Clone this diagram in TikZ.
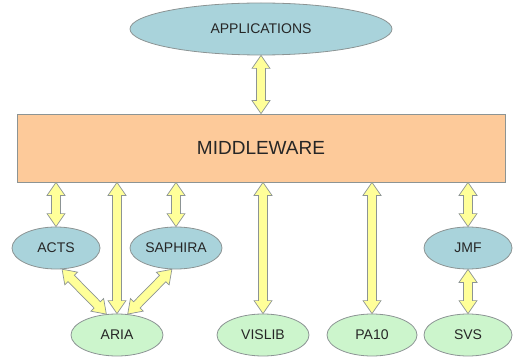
\documentclass[tikz,border=0pt]{standalone}
\usepackage{fontspec}
\setmainfont{Liberation Sans}
\usetikzlibrary{shapes.geometric,calc}

\definecolor{bluefill}{HTML}{A9D3DB}
\definecolor{greenfill}{HTML}{CCF5CC}
\definecolor{orangefill}{HTML}{FDCA9A}
\definecolor{arrowfill}{HTML}{FFFF99}
\definecolor{edgegray}{HTML}{8C9494}

% fat double arrow between two points
\newcommand\hl{13pt}
\newcommand\hw{9pt}
\newcommand\sw{4.5pt}
\newcommand\dualarrow[2]{%
  \path[fat arrow] let \p1=(#1), \p2=(#2),
    \n1={atan2(\y2-\y1,\x2-\x1)}, \n2={veclen(\x2-\x1,\y2-\y1)} in
    [shift={(\p1)}, rotate=\n1]
    (0pt,0pt) -- (\hl,\hw) -- (\hl,\sw) -- ({\n2-\hl},\sw) -- ({\n2-\hl},\hw) -- (\n2,0pt)
    -- ({\n2-\hl},-\hw) -- ({\n2-\hl},-\sw) -- (\hl,-\sw) -- (\hl,-\hw) -- cycle;}

\begin{document}
\begin{tikzpicture}[x=1pt,y=-1pt,
    blue node/.style={ellipse,draw=edgegray,fill=bluefill,line width=0.8pt,inner sep=0pt,
      minimum height=42pt,font=\fontsize{14}{16}\selectfont,text=black!85},
    green node/.style={blue node,fill=greenfill},
    fat arrow/.style={draw=edgegray,fill=arrowfill,line width=0.7pt,line join=miter}]
    \useasboundingbox (0,0) rectangle (516,358);

    \node[blue node,minimum width=262pt,minimum height=52pt] at (261,29) (apps) {APPLICATIONS};
    \node[draw=edgegray,fill=orangefill,line width=0.8pt,minimum width=488pt,minimum height=68pt,
      font=\fontsize{19}{22}\selectfont,text=black!85] at (261,148) (mw) {MIDDLEWARE};

    \node[blue node,minimum width=88pt] at (56,248) (acts) {ACTS};
    \node[blue node,minimum width=92pt] at (176,248) (saphira) {SAPHIRA};
    \node[blue node,minimum width=88pt] at (468,248) (jmf) {JMF};

    \node[green node,minimum width=92pt] at (117,335) (aria) {ARIA};
    \node[green node,minimum width=92pt] at (263,335) (vislib) {VISLIB};
    \node[green node,minimum width=90pt] at (372,335) (pa10) {PA10};
    \node[green node,minimum width=88pt] at (468,335) (svs) {SVS};

    \dualarrow{apps.south}{apps.south |- mw.north}
    \dualarrow{acts.north}{acts.north |- mw.south}
    \dualarrow{saphira.north}{saphira.north |- mw.south}
    \dualarrow{jmf.north}{jmf.north |- mw.south}
    \dualarrow{aria.north}{aria.north |- mw.south}
    \dualarrow{vislib.north}{vislib.north |- mw.south}
    \dualarrow{pa10.north}{pa10.north |- mw.south}
    \dualarrow{jmf.south}{svs.north}
    \dualarrow{acts.-74}{aria.117}
    \dualarrow{saphira.-101}{aria.63}
\end{tikzpicture}
\end{document}
